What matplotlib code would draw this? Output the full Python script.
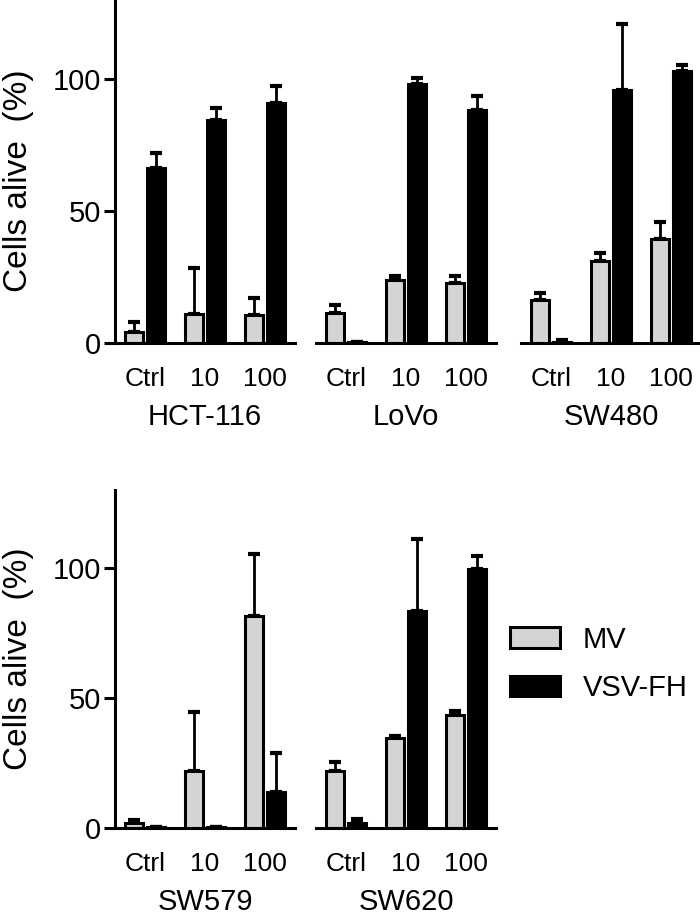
import numpy as np
import matplotlib.pyplot as plt
from matplotlib.patches import Patch

plt.rcParams["font.family"] = ["Liberation Sans", "DejaVu Sans"]

doses = ["Ctrl", "10", "100"]
cell_lines = ["HCT-116", "LoVo", "SW480", "SW579", "SW620"]

# mean values (% cells alive)
mv_mean = {
    "HCT-116": [4.2, 11.0, 10.6],
    "LoVo": [11.4, 23.9, 22.8],
    "SW480": [16.4, 31.0, 39.6],
    "SW579": [1.9, 21.8, 81.7],
    "SW620": [22.1, 34.5, 43.5],
}
mv_err = {
    "HCT-116": [3.8, 17.5, 6.4],
    "LoVo": [3.0, 1.5, 2.6],
    "SW480": [2.4, 3.3, 6.4],
    "SW579": [1.0, 22.9, 23.8],
    "SW620": [3.4, 1.0, 1.5],
}
vsv_mean = {
    "HCT-116": [66.3, 84.5, 91.0],
    "LoVo": [0.3, 98.0, 88.3],
    "SW480": [0.5, 95.8, 103.0],
    "SW579": [0.3, 0.2, 14.0],
    "SW620": [2.0, 83.4, 99.6],
}
vsv_err = {
    "HCT-116": [5.7, 4.5, 6.5],
    "LoVo": [0.2, 2.6, 5.4],
    "SW480": [0.5, 25.2, 2.5],
    "SW579": [0.0, 0.0, 15.0],
    "SW620": [1.6, 27.6, 5.1],
}

fig = plt.figure(figsize=(7, 9.17), dpi=100)

W, H = 700, 917
lefts = [115, 316, 521]
pw = 180
rows = [(0, 343), (490, 828)]  # top, bottom in pixels
ylab_y = [0.472, 0.5]

positions = [(0, 0), (0, 1), (0, 2), (1, 0), (1, 1)]
x = np.arange(len(doses))
bw = 0.3
off = 0.19
lw = 2.2

for name, (r, c) in zip(cell_lines, positions):
    top, bot = rows[r]
    ax = fig.add_axes([lefts[c] / W, 1 - bot / H, pw / W, (bot - top) / H])
    ax.bar(x - off, mv_mean[name], bw, color="#d4d4d4", edgecolor="black",
           linewidth=lw, zorder=2)
    ax.bar(x + off, vsv_mean[name], bw, color="black", edgecolor="black",
           linewidth=lw, zorder=2)
    ax.errorbar(x - off, mv_mean[name], yerr=[np.zeros(3), mv_err[name]],
                fmt="none", ecolor="black", elinewidth=2, capsize=4,
                capthick=3, zorder=1)
    ax.errorbar(x + off, vsv_mean[name], yerr=[np.zeros(3), vsv_err[name]],
                fmt="none", ecolor="black", elinewidth=2, capsize=4,
                capthick=3, zorder=1)
    ax.set_xlim(-0.5, 2.5)
    ax.set_ylim(0, 130)
    ax.set_xticks(x)
    ax.set_xticklabels(doses, fontsize=19)
    ax.tick_params(axis="x", length=0, pad=17)
    ax.set_xlabel(name, fontsize=21, labelpad=9)
    for s in ["top", "right"]:
        ax.spines[s].set_visible(False)
    ax.spines["bottom"].set_linewidth(2.2)
    ax.spines["left"].set_linewidth(2.2)
    if c == 0:
        ax.set_yticks([0, 50, 100])
        ax.tick_params(axis="y", length=8, width=2.2, labelsize=21, pad=2)
        ax.set_ylabel("Cells alive  (%)", fontsize=24)
        ax.yaxis.set_label_coords(-0.45, ylab_y[r])
    else:
        ax.spines["left"].set_visible(False)
        ax.set_yticks([])

handles = [Patch(facecolor="#d4d4d4", edgecolor="black", linewidth=lw),
           Patch(facecolor="black", edgecolor="black", linewidth=lw)]
fig.legend(handles, ["MV", "VSV-FH"], loc="center left",
           bbox_to_anchor=(510 / W, 1 - 664 / H), frameon=False,
           fontsize=21, handlelength=1.7, handleheight=0.69,
           handletextpad=0.8, labelspacing=0.7, borderpad=0,
           borderaxespad=0)

fig.savefig("out.png", dpi=100)
